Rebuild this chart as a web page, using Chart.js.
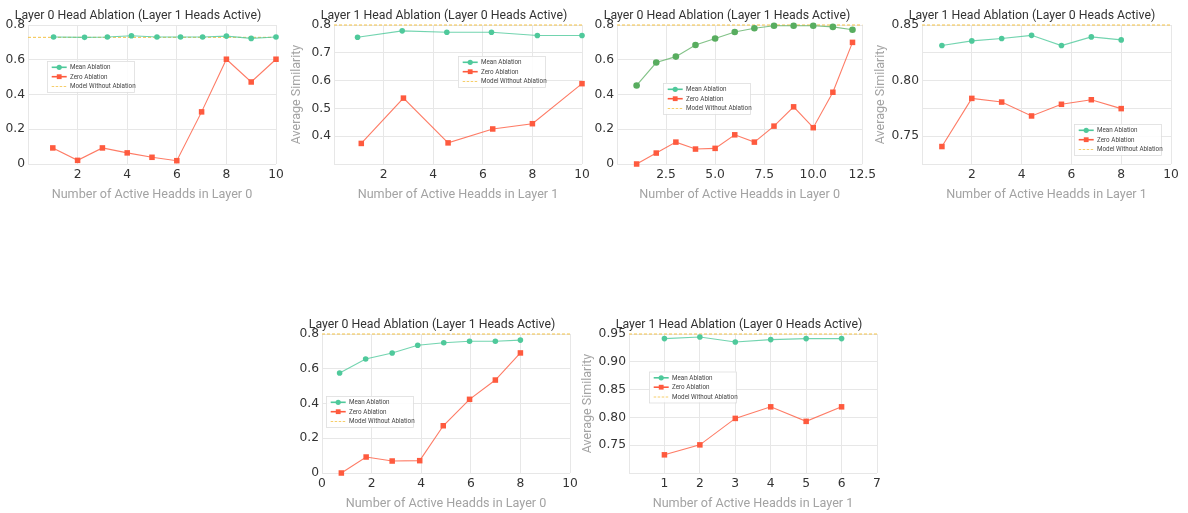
<!DOCTYPE html>
<html><head><meta charset="utf-8">
<script src="https://cdn.jsdelivr.net/npm/chart.js@4.4.0/dist/chart.umd.min.js"></script>
<style>
html,body{margin:0;padding:0;background:#fff;width:1188px;height:513px;overflow:hidden;position:relative;}
</style></head><body>
<script>
// ---------- text ----------
const titleL0 = "Layer 0 Head Ablation (Layer 1 Heads Active)";
const titleL1 = "Layer 1 Head Ablation (Layer 0 Heads Active)";
const xTitleL0 = "Number of Active Headds in Layer 0";
const xTitleL1 = "Number of Active Headds in Layer 1";
const yTitleText = "Average Similarity";
const legendLabels = ["Mean Ablation", "Zero Ablation", "Model Without Ablation"];

// ---------- panel 1 ----------
const c1MeanX = [1.03, 2.28, 3.2, 4.17, 5.2, 6.15, 7.04, 8.0, 9.0, 10.0];
const c1MeanY = [0.731, 0.729, 0.731, 0.738, 0.731, 0.731, 0.731, 0.736, 0.723, 0.731];
const c1ZeroX = [1, 2, 3, 4, 5, 6, 7, 8, 9, 10];
const c1ZeroY = [0.0925, 0.021, 0.0925, 0.064, 0.0386, 0.019, 0.30, 0.603, 0.472, 0.603];
const c1Base = 0.729;
const c1XTicks = [0, 2, 4, 6, 8, 10];
const c1XLabels = ["", "2", "4", "6", "8", "10"];
const c1YTicks = [0, 0.2, 0.4, 0.6, 0.8];
const c1YLabels = ["0", "0.2", "0.4", "0.6", "0.8"];

// ---------- panel 2 ----------
const c2MeanX = [0.95, 2.75, 4.55, 6.35, 8.2, 10];
const c2MeanY = [0.756, 0.779, 0.774, 0.774, 0.762, 0.762];
const c2ZeroX = [1.1, 2.8, 4.6, 6.4, 8.0, 10];
const c2ZeroY = [0.374, 0.537, 0.376, 0.426, 0.445, 0.589];
const c2Base = 0.8;
const c2XTicks = [0, 2, 4, 6, 8, 10];
const c2XLabels = ["", "2", "4", "6", "8", "10"];
const c2YTicks = [0.3, 0.4, 0.5, 0.6, 0.7, 0.8];
const c2YLabels = ["", "0.4", "0.5", "0.6", "0.7", "0.8"];

// ---------- panel 3 ----------
const c3MeanX = [1, 2, 3, 4, 5, 6, 7, 8, 9, 10, 11, 12];
const c3MeanY = [0.452, 0.584, 0.618, 0.685, 0.722, 0.76, 0.781, 0.796, 0.796, 0.796, 0.789, 0.773];
const c3ZeroX = [1, 2, 3, 4, 5, 6, 7, 8, 9, 10, 11, 12];
const c3ZeroY = [0, 0.063, 0.126, 0.086, 0.09, 0.168, 0.126, 0.218, 0.329, 0.209, 0.413, 0.70];
const c3Base = 0.8;
const c3XTicks = [0, 2.5, 5, 7.5, 10, 12.5];
const c3XLabels = ["", "2.5", "5.0", "7.5", "10.0", "12.5"];
const c3YTicks = [0, 0.2, 0.4, 0.6, 0.8];
const c3YLabels = ["0", "0.2", "0.4", "0.6", "0.8"];

// ---------- panel 4 ----------
const c4MeanX = [0.8, 2.0, 3.2, 4.4, 5.6, 6.8, 8.0];
const c4MeanY = [0.8315, 0.8357, 0.8378, 0.8407, 0.8315, 0.8393, 0.8366];
const c4ZeroX = [0.8, 2.0, 3.2, 4.4, 5.6, 6.8, 8.0];
const c4ZeroY = [0.7407, 0.784, 0.7807, 0.7682, 0.7787, 0.7828, 0.7748];
const c4Base = 0.85;
const c4XTicks = [0, 2, 4, 6, 8, 10];
const c4XLabels = ["", "2", "4", "6", "8", "10"];
const c4YTicks = [0.725, 0.75, 0.775, 0.8, 0.825, 0.85];
const c4YLabels = ["", "0.75", "", "0.80", "", "0.85"];

// ---------- panel 5 ----------
const c5MeanX = [0.71, 1.76, 2.83, 3.86, 4.91, 5.95, 6.99, 8.0];
const c5MeanY = [0.5755, 0.656, 0.691, 0.735, 0.750, 0.758, 0.758, 0.765];
const c5ZeroX = [0.78, 1.78, 2.83, 3.94, 4.89, 5.95, 6.99, 8.0];
const c5ZeroY = [0, 0.092, 0.069, 0.071, 0.272, 0.424, 0.535, 0.691];
const c5Base = 0.8;
const c5XTicks = [0, 2, 4, 6, 8, 10];
const c5XLabels = ["0", "2", "4", "6", "8", "10"];
const c5YTicks = [0, 0.2, 0.4, 0.6, 0.8];
const c5YLabels = ["0", "0.2", "0.4", "0.6", "0.8"];

// ---------- panel 6 ----------
const c6MeanX = [1, 2, 3, 4, 5, 6];
const c6MeanY = [0.9417, 0.9446, 0.9357, 0.9399, 0.9417, 0.9417];
const c6ZeroX = [1, 2, 3, 4, 5, 6];
const c6ZeroY = [0.7327, 0.7506, 0.7982, 0.819, 0.7929, 0.819];
const c6Base = 0.95;
const c6XTicks = [0, 1, 2, 3, 4, 5, 6, 7];
const c6XLabels = ["", "1", "2", "3", "4", "5", "6", "7"];
const c6YTicks = [0.70, 0.75, 0.80, 0.85, 0.90, 0.95];
const c6YLabels = ["", "0.75", "0.80", "0.85", "0.90", "0.95"];

// ---------- styles ----------
const MINT = '#4fc99b', MINT_LINE = 'rgba(79,201,155,0.8)';
const GREEN = '#58ad5f', GREEN_LINE = 'rgba(88,173,95,0.75)';
const RED = '#fe5a3e', RED_LINE = 'rgba(254,90,62,0.8)';
const YELLOW = '#f4c245';
const GRID = '#e7e7e7';
const PADL = 60, PADT = 25, PADR = 15, XAXH = 45;

const panels = [
  {left: 28, top: 25, w: 248, h: 139, title: titleL0, xTitle: xTitleL0, yTitle: null, yTitlePad: 0,
   meanX: c1MeanX, meanY: c1MeanY, zeroX: c1ZeroX, zeroY: c1ZeroY, base: c1Base,
   xTicks: c1XTicks, xLabels: c1XLabels, yTicks: c1YTicks, yLabels: c1YLabels,
   meanColor: MINT, meanLine: MINT_LINE, meanR: 2.8, legend: [19, 36]},
  {left: 334, top: 25, w: 248, h: 139, title: titleL1, xTitle: xTitleL1, yTitle: yTitleText, yTitlePad: 14.9,
   meanX: c2MeanX, meanY: c2MeanY, zeroX: c2ZeroX, zeroY: c2ZeroY, base: c2Base,
   xTicks: c2XTicks, xLabels: c2XLabels, yTicks: c2YTicks, yLabels: c2YLabels,
   meanColor: MINT, meanLine: MINT_LINE, meanR: 2.8, legend: [124, 31]},
  {left: 617, top: 25, w: 247, h: 139, title: titleL0, xTitle: xTitleL0, yTitle: null, yTitlePad: 0,
   meanX: c3MeanX, meanY: c3MeanY, zeroX: c3ZeroX, zeroY: c3ZeroY, base: c3Base,
   xTicks: c3XTicks, xLabels: c3XLabels, yTicks: c3YTicks, yLabels: c3YLabels,
   meanColor: GREEN, meanLine: GREEN_LINE, meanR: 3.3, legend: [46, 58]},
  {left: 922, top: 25, w: 249, h: 139, title: titleL1, xTitle: xTitleL1, yTitle: yTitleText, yTitlePad: 11.2,
   meanX: c4MeanX, meanY: c4MeanY, zeroX: c4ZeroX, zeroY: c4ZeroY, base: c4Base,
   xTicks: c4XTicks, xLabels: c4XLabels, yTicks: c4YTicks, yLabels: c4YLabels,
   meanColor: MINT, meanLine: MINT_LINE, meanR: 2.8, legend: [152, 99]},
  {left: 322, top: 334, w: 248, h: 139, title: titleL0, xTitle: xTitleL0, yTitle: null, yTitlePad: 0,
   meanX: c5MeanX, meanY: c5MeanY, zeroX: c5ZeroX, zeroY: c5ZeroY, base: c5Base,
   xTicks: c5XTicks, xLabels: c5XLabels, yTicks: c5YTicks, yLabels: c5YLabels,
   meanColor: MINT, meanLine: MINT_LINE, meanR: 2.8, legend: [4, 62]},
  {left: 629, top: 334, w: 248, h: 139, title: titleL1, xTitle: xTitleL1, yTitle: yTitleText, yTitlePad: 11.8,
   meanX: c6MeanX, meanY: c6MeanY, zeroX: c6ZeroX, zeroY: c6ZeroY, base: c6Base,
   xTicks: c6XTicks, xLabels: c6XLabels, yTicks: c6YTicks, yLabels: c6YLabels,
   meanColor: MINT, meanLine: MINT_LINE, meanR: 2.8, legend: [20, 37.5]},
];

const pts = (xs, ys) => xs.map((x, i) => ({x: x, y: ys[i]}));

// title + in-plot legend
const overlay = {
  id: 'overlay',
  afterDraw(chart, args, o) {
    const {ctx, chartArea} = chart;
    ctx.save();
    ctx.fillStyle = '#333';
    ctx.font = '12.3px Roboto';
    ctx.textAlign = 'center';
    ctx.textBaseline = 'middle';
    ctx.fillText(o.title, chartArea.left + 110, chartArea.top - 9);

    const bx = chartArea.left + o.legend[0], by = chartArea.top + o.legend[1];
    const bw = 87, bh = 31;
    ctx.fillStyle = 'rgba(255,255,255,0.85)';
    ctx.strokeStyle = '#dedede';
    ctx.lineWidth = 0.8;
    ctx.fillRect(bx, by, bw, bh);
    ctx.strokeRect(bx + 0.5, by + 0.5, bw, bh);
    const rows = [6.3, 15.7, 25.5];
    const cols = [MINT, RED, YELLOW];
    ctx.font = '6.3px Roboto';
    ctx.textAlign = 'left';
    rows.forEach((ry, i) => {
      const y = by + ry;
      ctx.beginPath();
      ctx.strokeStyle = cols[i];
      ctx.lineWidth = i === 2 ? 0.8 : 1.6;
      ctx.setLineDash(i === 2 ? [2.5, 1.5] : []);
      ctx.moveTo(bx + 4.7, y); ctx.lineTo(bx + 19.7, y);
      ctx.stroke();
      ctx.setLineDash([]);
      ctx.fillStyle = cols[i];
      if (i === 0) { ctx.beginPath(); ctx.arc(bx + 12.2, y, 2.6, 0, Math.PI * 2); ctx.fill(); }
      if (i === 1) { ctx.fillRect(bx + 12.2 - 2.4, y - 2.4, 4.8, 4.8); }
      ctx.fillStyle = '#444';
      ctx.fillText(legendLabels[i], bx + 23, y + 0.3);
    });
    ctx.restore();
  }
};

function axisCommon(ticksArr, labels) {
  return {
    type: 'linear',
    min: ticksArr[0],
    max: ticksArr[ticksArr.length - 1],
    afterBuildTicks: s => { s.ticks = ticksArr.map(v => ({value: v})); },
    ticks: {autoSkip: false, maxRotation: 0, padding: 3, color: '#333',
            font: {family: 'DejaVu Sans', size: 12.3},
            callback: (v, i) => labels[i]},
    grid: {color: GRID, lineWidth: 1, drawTicks: false},
    border: {display: false}
  };
}

panels.forEach(p => {
  const W = p.w + PADL + PADR, H = p.h + PADT + XAXH;
  const div = document.createElement('div');
  div.style.cssText = `position:absolute;left:${p.left - PADL}px;top:${p.top - PADT}px;width:${W}px;height:${H}px;`;
  const cv = document.createElement('canvas');
  cv.width = W; cv.height = H;
  cv.style.width = W + 'px'; cv.style.height = H + 'px';
  div.appendChild(cv);
  document.body.appendChild(div);

  const xs = axisCommon(p.xTicks, p.xLabels);
  xs.position = 'bottom';
  xs.afterFit = s => { s.height = XAXH; };
  xs.title = {display: true, text: p.xTitle, color: '#a3a3a3',
              font: {family: 'Roboto', size: 12.6}, padding: {top: 0, bottom: 6.5}};
  const ys = axisCommon(p.yTicks, p.yLabels);
  ys.position = 'left';
  ys.afterFit = s => { s.width = PADL; };
  ys.title = {display: !!p.yTitle, text: p.yTitle || '', color: '#a3a3a3',
              font: {family: 'Roboto', size: 12.5}, padding: {top: p.yTitlePad, bottom: 0}};

  new Chart(cv, {
    type: 'line',
    data: {datasets: [
      {label: legendLabels[0], data: pts(p.meanX, p.meanY), borderColor: p.meanLine,
       backgroundColor: p.meanColor, pointBackgroundColor: p.meanColor, pointBorderWidth: 0,
       pointRadius: p.meanR, pointStyle: 'circle', borderWidth: 1.1, tension: 0, clip: false},
      {label: legendLabels[1], data: pts(p.zeroX, p.zeroY), borderColor: RED_LINE,
       backgroundColor: RED, pointBackgroundColor: RED, pointBorderWidth: 0,
       pointRadius: 3.9, pointStyle: 'rect', borderWidth: 1.1, tension: 0, clip: false},
      {label: legendLabels[2],
       data: [{x: p.xTicks[0], y: p.base}, {x: p.xTicks[p.xTicks.length - 1], y: p.base}],
       borderColor: YELLOW, borderDash: [3, 2], borderWidth: 1, pointRadius: 0, clip: false}
    ]},
    options: {
      responsive: false,
      animation: false,
      events: [],
      layout: {padding: {left: 0, top: PADT, right: PADR, bottom: 0}},
      plugins: {legend: {display: false}, title: {display: false}, tooltip: {enabled: false},
                overlay: {title: p.title, legend: p.legend}},
      scales: {x: xs, y: ys}
    },
    plugins: [overlay]
  });
});
</script>
</body></html>
